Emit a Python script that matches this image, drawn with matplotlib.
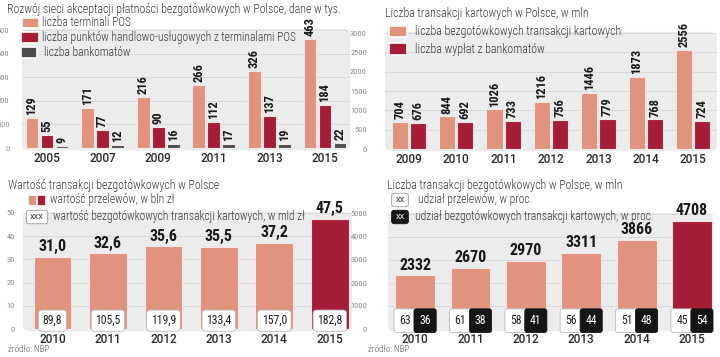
import numpy as np
import matplotlib.pyplot as plt
from matplotlib.patches import FancyBboxPatch, Rectangle

# Data
years1 = ['2005', '2007', '2009', '2011', '2013', '2015']
pos_terminals = [129, 171, 216, 266, 326, 463]
pos_points = [55, 77, 90, 112, 137, 184]
atms = [9, 12, 16, 17, 19, 22]

years2 = ['2009', '2010', '2011', '2012', '2013', '2014', '2015']
card_tx = [704, 844, 1026, 1216, 1446, 1873, 2556]
atm_withdrawals = [676, 692, 733, 756, 779, 768, 724]

years3 = ['2010', '2011', '2012', '2013', '2014', '2015']
transfer_value = [31.0, 32.6, 35.6, 35.5, 37.2, 47.5]
card_value = [89.8, 105.5, 119.9, 133.4, 157.0, 182.8]

years4 = ['2010', '2011', '2012', '2013', '2014', '2015']
tx_count = [2332, 2670, 2970, 3311, 3866, 4708]
share_transfer = [63, 61, 58, 56, 51, 45]
share_card = [36, 38, 41, 44, 48, 54]

PINK = '#E0937D'
RED = '#A51D36'
GRAY = '#4D4D4D'
BG = '#ECECEC'
COND = ['Roboto Condensed', 'Liberation Sans Narrow', 'Roboto', 'DejaVu Sans']
YEARF = ['Roboto', 'DejaVu Sans']
W, H = 720, 357

fig = plt.figure(figsize=(7.2, 3.57), dpi=100)


def px_axes(left, right, top, bottom):
    return fig.add_axes([left / W, 1 - bottom / H, (right - left) / W, (bottom - top) / H])


def fmt(v):
    return f'{v:.1f}'.replace('.', ',')


def setup(ax, ylim, yticks, xlabels, xlim, pad):
    ax.set_facecolor('none')
    for s in ax.spines.values():
        s.set_visible(False)
    bb = ax.get_position()
    wpx, hpx = bb.width * W, bb.height * H
    bg = FancyBboxPatch((0, -0.02), 1, 1.03, boxstyle='round,pad=0,rounding_size=%f' % (7 / wpx),
                        mutation_aspect=wpx / hpx, transform=ax.transAxes, facecolor=BG,
                        edgecolor='none', zorder=0, clip_on=False)
    ax.add_patch(bg)
    ax.set_ylim(*ylim)
    ax.set_yticks(yticks)
    ax.set_yticklabels([str(t) for t in yticks], family=COND, fontsize=6, color='#8a8a8a')
    ax.grid(axis='y', color='#D6D6D6', lw=0.6, zorder=1)
    ax.set_axisbelow(True)
    ax.set_xlim(*xlim)
    ax.set_xticks(range(len(xlabels)))
    ax.set_xticklabels(xlabels, fontsize=8.5, fontweight='medium', color='#2a2a2a', family=YEARF)
    ax.tick_params(axis='y', length=0, pad=pad)
    ax.tick_params(axis='x', length=0, pad=3)


def legend_square(x, y, w, h, color, ec='white'):
    fig.add_artist(Rectangle((x / W, 1 - (y + h) / H), w / W, h / H, transform=fig.transFigure,
                             facecolor=color, edgecolor=ec, lw=1.2))


def ftext(x, y, s, size=8.3, **kw):
    fig.text(x / W, 1 - y / H, s, fontsize=size, family=COND, fontweight='light', va='center',
             color='#3a3a3a', **kw)


def xbox(x, y, s, dark=False):
    fig.text(x / W, 1 - y / H, s, fontsize=6, family=COND, ha='center', va='center',
             color='white' if dark else '#333',
             bbox=dict(boxstyle='round,pad=0.45,rounding_size=0.3', fc='#151515' if dark else 'white',
                       ec='#151515' if dark else '#999999', lw=0.6))


# Panel 1
ax1 = px_axes(22, 350, 30, 148)
setup(ax1, (0, 500), range(0, 501, 100), years1, (-0.45, 5.45), 9)
x1 = np.arange(len(years1))
bw = 0.23
for off, vals, col in [(-0.27, pos_terminals, PINK), (0, pos_points, RED), (0.27, atms, GRAY)]:
    ax1.bar(x1 + off, vals, bw, color=col, edgecolor='#f7e6e1', lw=0.8, zorder=2)
    for xi, v in zip(x1 + off, vals):
        ax1.annotate(str(v), (xi, v), xytext=(0, 2), textcoords='offset points', rotation=90,
                     ha='center', va='bottom', fontsize=9, fontweight='bold', family=COND,
                     color='#1a1a1a')
ftext(7, 9, 'Rozwój sieci akceptacji płatności bezgotówkowych w Polsce, dane w tys.', 8.6)
legend_square(22, 18, 17, 10, PINK)
ftext(42, 23, 'liczba terminali POS')
legend_square(21, 32, 18, 11, RED)
ftext(42, 38, 'liczba punktów handlowo-usługowych z terminalami POS')
legend_square(21, 47, 16, 11, GRAY)
ftext(44, 53, 'liczba bankomatów')

# Panel 2
ax2 = px_axes(385, 717, 33, 149)
setup(ax2, (0, 3000), range(0, 3001, 500), years2, (-0.5, 6.5), 13)
x2 = np.arange(len(years2))
bw2 = 0.34
for off, vals, col in [(-0.19, card_tx, PINK), (0.19, atm_withdrawals, RED)]:
    ax2.bar(x2 + off, vals, bw2, color=col, edgecolor='#f7e6e1', lw=0.8, zorder=2)
    for xi, v in zip(x2 + off, vals):
        ax2.annotate(str(v), (xi, v), xytext=(0, 2), textcoords='offset points', rotation=90,
                     ha='center', va='bottom', fontsize=9, fontweight='bold', family=COND,
                     color='#1a1a1a')
ftext(385, 14, 'Liczba transakcji kartowych w Polsce, w mln', 8.6)
legend_square(389, 26, 18, 11, PINK)
ftext(415, 32, 'liczba bezgotówkowych transakcji kartowych', 8.6)
legend_square(389, 43, 18, 12, RED)
ftext(415, 49, 'liczba wypłat z bankomatów', 8.6)

# Panel 3
ax3 = px_axes(23, 352, 213, 329)
setup(ax3, (0, 50), range(0, 51, 10), years3, (-0.53, 5.4), 6)
x3 = np.arange(len(years3))
cols3 = [PINK] * (len(years3) - 1) + [RED]
ax3.bar(x3, transfer_value, 0.68, color=cols3, edgecolor='#f7e6e1', lw=0.8, zorder=2)
for xi, v, c in zip(x3, transfer_value, card_value):
    ax3.annotate(fmt(v), (xi, v), xytext=(0, 2), textcoords='offset points', ha='center',
                 va='bottom', fontsize=11.5, fontweight='bold', family=COND, color='#1a1a1a')
    ax3.annotate(fmt(c), (xi, 0), xytext=(0, 6), textcoords='offset points', ha='center',
                 va='center', fontsize=8.5, family=COND, color='#222',
                 bbox=dict(boxstyle='round,pad=0.35,rounding_size=0.3', fc='white', ec='#bbbbbb', lw=0.6))
ftext(8, 185, 'Wartość transakcji bezgotówkowych w Polsce', 8.6)
legend_square(28, 195, 9, 11, PINK)
legend_square(37, 195, 9, 11, RED)
ftext(50, 200, 'wartość przelewów, w bln zł')
xbox(37, 217, 'XXX')
ftext(53, 217, 'wartość bezgotówkowych transakcji kartowych, w mld zł')
fig.text(8 / W, 1 - 350 / H, 'źródło: NBP', fontsize=6.5, family=COND, fontweight='light',
         va='center', color='#555')

# Panel 4
ax4 = px_axes(388, 713, 214, 329)
setup(ax4, (0, 5000), range(0, 5001, 1000), years4, (-0.49, 5.38), 15)
x4 = np.arange(len(years4))
cols4 = [PINK] * (len(years4) - 1) + [RED]
ax4.bar(x4, tx_count, 0.72, color=cols4, edgecolor='#f7e6e1', lw=0.8, zorder=2)
for xi, v, a, b in zip(x4, tx_count, share_transfer, share_card):
    ax4.annotate(str(v), (xi, v), xytext=(0, 2), textcoords='offset points', ha='center',
                 va='bottom', fontsize=11.5, fontweight='bold', family=COND, color='#1a1a1a')
    ax4.annotate(str(a), (xi - 0.18, 0), xytext=(0, 6), textcoords='offset points', ha='center',
                 va='center', fontsize=8.5, family=COND, color='#222',
                 bbox=dict(boxstyle='round,pad=0.45,rounding_size=0.2', fc='white', ec='#bbbbbb', lw=0.6))
    ax4.annotate(str(b), (xi + 0.18, 0), xytext=(0, 6), textcoords='offset points', ha='center',
                 va='center', fontsize=8.5, family=COND, color='white',
                 bbox=dict(boxstyle='round,pad=0.45,rounding_size=0.2', fc='#151515', ec='#151515', lw=0.6))
ftext(387, 185, 'Liczba transakcji bezgotówkowych w Polsce, w mln', 8.6)
xbox(400, 200, 'XX')
ftext(418, 200, 'udział przelewów, w proc.')
xbox(400, 217, 'XX', dark=True)
ftext(415, 217, 'udział bezgotówkowych transakcji kartowych, w proc.')
fig.text(368 / W, 1 - 350 / H, 'źródło: NBP', fontsize=6.5, family=COND, fontweight='light',
         va='center', color='#555')

fig.savefig('out.png', dpi=100)
